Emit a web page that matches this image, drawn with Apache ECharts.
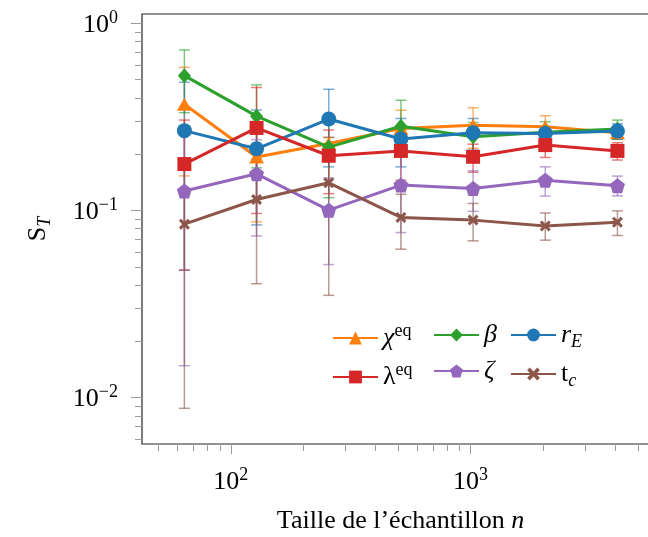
<!DOCTYPE html>
<html><head><meta charset="utf-8">
<script src="https://cdn.jsdelivr.net/npm/echarts@6/dist/echarts.min.js"></script>
<style>html,body{margin:0;padding:0;background:#fff}#c{width:648px;height:537px}</style>
</head><body><div id="c"></div>
<script>
// ---- data ----
const sampleSizes = [64, 128, 256, 512, 1024, 2048, 4096];

const chiEq      = [0.369, 0.193, 0.228, 0.274, 0.285, 0.280, 0.260];
const chiEqLow   = [0.153, 0.087, 0.211, 0.205, 0.215, 0.239, 0.240];
const chiEqHigh  = [0.582, 0.299, 0.245, 0.343, 0.354, 0.321, 0.280];

const beta       = [0.525, 0.319, 0.218, 0.282, 0.2475, 0.262, 0.272];
const betaLow    = [0.333, 0.169, 0.117, 0.1935, 0.200, 0.226, 0.240];
const betaHigh   = [0.720, 0.469, 0.318, 0.388, 0.295, 0.298, 0.304];

const rE         = [0.267, 0.2135, 0.308, 0.241, 0.260, 0.258, 0.2655];
const rELow      = [0.048, 0.0837, 0.171, 0.171, 0.210, 0.235, 0.240];
const rEHigh     = [0.484, 0.344, 0.444, 0.310, 0.310, 0.280, 0.290];

const lambdaEq     = [0.177, 0.276, 0.196, 0.208, 0.1935, 0.2235, 0.208];
const lambdaEqLow  = [0.048, 0.0964, 0.123, 0.145, 0.160, 0.192, 0.186];
const lambdaEqHigh = [0.304, 0.454, 0.269, 0.271, 0.226, 0.255, 0.230];

const zeta       = [0.127, 0.157, 0.1004, 0.1366, 0.131, 0.145, 0.1354];
const zetaLow    = [0.0148, 0.0731, 0.0514, 0.0762, 0.099, 0.1193, 0.1197];
const zetaHigh   = [0.267, 0.239, 0.149, 0.197, 0.163, 0.171, 0.1526];

const tc         = [0.0845, 0.1145, 0.1405, 0.0918, 0.0888, 0.0827, 0.0866];
const tcLow      = [0.00877, 0.0406, 0.0352, 0.0621, 0.0688, 0.0694, 0.0735];
const tcHigh     = [0.168, 0.189, 0.246, 0.122, 0.109, 0.097, 0.0995];

const seriesNames = ['χeq', 'β', 'rE', 'λeq', 'ζ', 'tc'];
const xMajorTicks = [100, 1000];
const xMinorTicks = [50, 60, 70, 80, 90, 200, 300, 400, 500, 600, 700, 800, 900, 2000, 3000, 4000, 5000];
const yMajorTicks = [0.01, 0.1, 1];
const yMinorTicks = [0.006, 0.007, 0.008, 0.009, 0.02, 0.03, 0.04, 0.05, 0.06, 0.07, 0.08, 0.09,
                     0.2, 0.3, 0.4, 0.5, 0.6, 0.7, 0.8, 0.9];
const xAxisTitle = 'Taille de l’échantillon ';
const yAxisTitle = 'S';

// ---- style ----
const FONT = "'Liberation Serif', 'DejaVu Serif', serif";
const FS = 26, SFS = 18;
const X_MIN = 42.6, X_MAX = 5546, Y_MIN = 0.005654, Y_MAX = 1.121;
const GRID = {left: 142, top: 14, width: 507, height: 430, outerBoundsMode: 'none', containLabel: false};

const rich = {
  b: {fontFamily: FONT, fontSize: FS, lineHeight: 32, color: '#000'},
  bi: {fontFamily: FONT, fontSize: FS, lineHeight: 32, fontStyle: 'italic', color: '#000'},
  sup: {fontFamily: FONT, fontSize: SFS, lineHeight: 18, verticalAlign: 'top', color: '#000'},
  sub: {fontFamily: FONT, fontSize: SFS, lineHeight: 18, verticalAlign: 'bottom', color: '#000'},
  subi: {fontFamily: FONT, fontSize: SFS, lineHeight: 18, verticalAlign: 'bottom', fontStyle: 'italic', color: '#000'}
};

const legendLabels = {
  'χeq': '{bi|χ}{sup|eq}',
  'λeq': '{b|λ}{sup|eq}',
  'β': '{bi|β}',
  'ζ': '{bi|ζ}',
  'rE': '{bi|r}{subi|E}',
  'tc': '{b|t}{subi|c}'
};

function powLabel(v) {
  const e = Math.round(Math.log10(v));
  return '{b|10}{sup|' + String(e).replace('-', '−') + '}';
}

function rgba(hex, a) {
  const n = parseInt(hex.slice(1), 16);
  return 'rgba(' + (n >> 16 & 255) + ',' + (n >> 8 & 255) + ',' + (n & 255) + ',' + a + ')';
}

const PENTAGON = 'path://M0,-1 L0.951,-0.309 L0.588,0.809 L-0.588,0.809 L-0.951,-0.309 Z';
const XCROSS = 'path://M-1,-0.6 L-0.6,-1 L0,-0.4 L0.6,-1 L1,-0.6 L0.4,0 L1,0.6 L0.6,1 L0,0.4 L-0.6,1 L-1,0.6 L-0.4,0 Z';

const defs = [
  {name: seriesNames[0], v: chiEq, lo: chiEqLow, hi: chiEqHigh, color: '#ff7f0e', symbol: 'triangle', size: [15, 13]},
  {name: seriesNames[1], v: beta, lo: betaLow, hi: betaHigh, color: '#2ca02c', symbol: 'diamond', size: [13, 15]},
  {name: seriesNames[2], v: rE, lo: rELow, hi: rEHigh, color: '#1f77b4', symbol: 'circle', size: 15},
  {name: seriesNames[3], v: lambdaEq, lo: lambdaEqLow, hi: lambdaEqHigh, color: '#d62728', symbol: 'rect', size: 14},
  {name: seriesNames[4], v: zeta, lo: zetaLow, hi: zetaHigh, color: '#9467bd', symbol: PENTAGON, size: 15},
  {name: seriesNames[5], v: tc, lo: tcLow, hi: tcHigh, color: '#8c564b', symbol: XCROSS, size: 11}
];

const series = [];
defs.forEach(d => {
  const ec = rgba(d.color, 0.6);
  series.push({
    type: 'custom', name: d.name + ' erreur', xAxisIndex: 0, yAxisIndex: 0,
    silent: true, animation: false,
    data: sampleSizes.map((x, i) => [x, d.lo[i], d.hi[i]]),
    encode: {x: 0, y: [1, 2]},
    renderItem: function (params, api) {
      const x = api.value(0);
      const p1 = api.coord([x, api.value(1)]);
      const p2 = api.coord([x, api.value(2)]);
      const w = 5.5;
      const st = {stroke: ec, lineWidth: 1.5, fill: null};
      return {type: 'group', children: [
        {type: 'line', shape: {x1: p1[0], y1: p1[1], x2: p2[0], y2: p2[1]}, style: st},
        {type: 'line', shape: {x1: p1[0] - w, y1: p1[1], x2: p1[0] + w, y2: p1[1]}, style: st},
        {type: 'line', shape: {x1: p2[0] - w, y1: p2[1], x2: p2[0] + w, y2: p2[1]}, style: st}
      ]};
    }
  });
  series.push({
    type: 'line', name: d.name, xAxisIndex: 0, yAxisIndex: 0,
    data: sampleSizes.map((x, i) => [x, d.v[i]]),
    symbol: d.symbol, symbolSize: d.size, showSymbol: true,
    lineStyle: {width: 3, color: d.color},
    itemStyle: {color: d.color, borderWidth: 0},
    animation: false
  });
});

function makeLegend(names, left) {
  return {
    data: names, orient: 'vertical', left: left, top: 322,
    itemWidth: 45, itemHeight: 16, itemGap: 10, padding: 0,
    selectedMode: false,
    formatter: n => legendLabels[n],
    textStyle: {rich: rich, fontFamily: FONT, fontSize: FS}
  };
}

const chart = echarts.init(document.getElementById('c'), null, {renderer: 'canvas'});
chart.setOption({
  backgroundColor: '#fff',
  animation: false,
  grid: [
    Object.assign({show: true, borderColor: '#262626', borderWidth: 1.2, backgroundColor: 'transparent'}, GRID),
    Object.assign({show: false}, GRID)
  ],
  legend: [
    makeLegend([seriesNames[0], seriesNames[3]], 332),
    makeLegend([seriesNames[1], seriesNames[4]], 433),
    makeLegend([seriesNames[2], seriesNames[5]], 510)
  ],
  xAxis: [
    {
      type: 'log', logBase: 10, gridIndex: 0, min: X_MIN, max: X_MAX, position: 'bottom',
      axisLine: {show: false, onZero: false},
      axisTick: {show: true, inside: false, length: 10, customValues: xMajorTicks, lineStyle: {color: '#9a9a9a', width: 1}},
      axisLabel: {show: true, customValues: xMajorTicks, margin: 22, formatter: powLabel, rich: rich},
      splitLine: {show: false}, minorTick: {show: false},
      name: '{b|' + xAxisTitle + '}{bi|n}', nameLocation: 'middle', nameGap: 61,
      nameTextStyle: {rich: rich, padding: [0, 0, 0, 10]}
    },
    {
      type: 'log', logBase: 10, gridIndex: 1, min: X_MIN, max: X_MAX, position: 'bottom',
      axisLine: {show: false, onZero: false},
      axisTick: {show: true, inside: false, length: 7, customValues: xMinorTicks, lineStyle: {color: '#9a9a9a', width: 1}},
      axisLabel: {show: false}, splitLine: {show: false}
    }
  ],
  yAxis: [
    {
      type: 'log', logBase: 10, gridIndex: 0, min: Y_MIN, max: Y_MAX, position: 'left',
      axisLine: {show: false, onZero: false},
      axisTick: {show: true, inside: false, length: 11, customValues: yMajorTicks, lineStyle: {color: '#9a9a9a', width: 1}},
      axisLabel: {show: true, customValues: yMajorTicks, margin: 24, formatter: powLabel, rich: rich, padding: [4, 0, 0, 0]},
      splitLine: {show: false}, minorTick: {show: false},
      name: '{b|' + yAxisTitle + '}{subi|T}', nameLocation: 'middle', nameRotate: 90, nameGap: 88,
      nameTextStyle: {rich: rich}
    },
    {
      type: 'log', logBase: 10, gridIndex: 1, min: Y_MIN, max: Y_MAX, position: 'left',
      axisLine: {show: false, onZero: false},
      axisTick: {show: true, inside: false, length: 7, customValues: yMinorTicks, lineStyle: {color: '#9a9a9a', width: 1}},
      axisLabel: {show: false}, splitLine: {show: false}
    }
  ],
  series: series
});
</script>
</body></html>
